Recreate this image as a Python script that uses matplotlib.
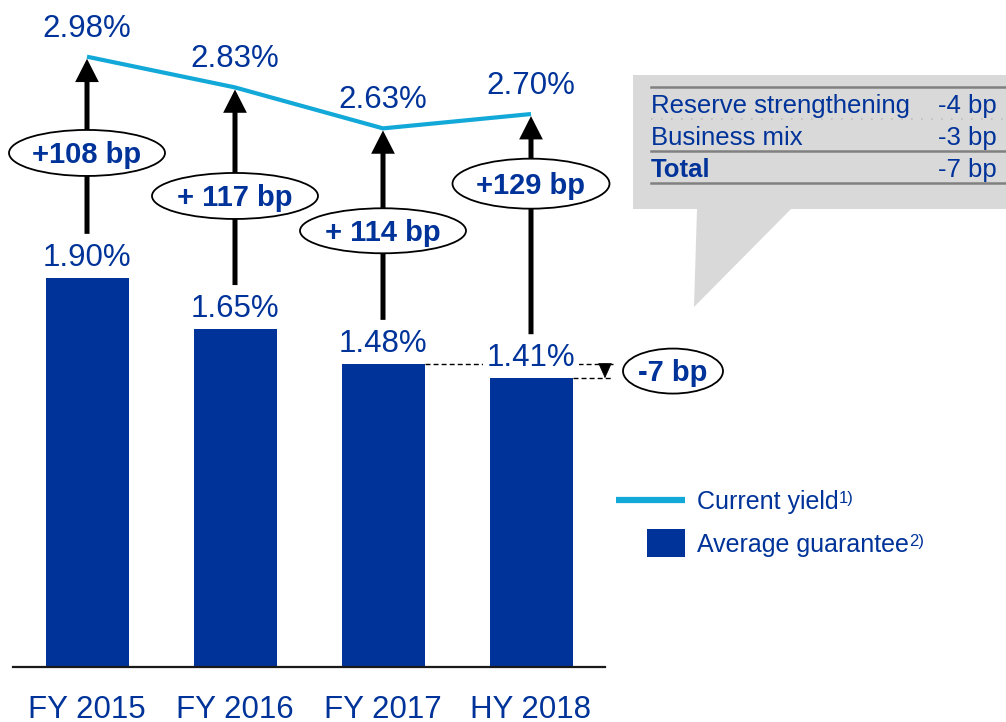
import matplotlib
matplotlib.use("Agg")
import matplotlib.pyplot as plt
from matplotlib.patches import Ellipse, Polygon, Rectangle, FancyArrowPatch
from matplotlib.lines import Line2D

plt.rcParams['font.family'] = ['Liberation Sans', 'DejaVu Sans']

# ---- data -------------------------------------------------------------
periods = ["FY 2015", "FY 2016", "FY 2017", "HY 2018"]
current_yield = [2.98, 2.83, 2.63, 2.70]          # %
average_guarantee = [1.90, 1.65, 1.48, 1.41]      # %
spread_labels = ["+108 bp", "+ 117 bp", "+ 114 bp", "+129 bp"]
change_label = "-7 bp"
bridge_items = ["Reserve strengthening", "Business mix"]
bridge_values = ["-4 bp", "-3 bp"]
bridge_total_label = "Total"
bridge_total_value = "-7 bp"

# ---- layout / style ---------------------------------------------------
BLUE = "#003399"
CYAN = "#12A8D8"
GREY = "#D9D9D9"
RULE = "#808080"

badge_y = [2.51, 2.30, 2.13, 2.36]       # vertical centre of the spread badges
badge_w = [156, 166, 166, 157]          # badge size in pixels
badge_h = [46, 46, 45, 50]

W, H = 1006, 722
fig = plt.figure(figsize=(W / 100, H / 100), dpi=100)


def fx(x):
    return x / W


def fy(y):
    return 1 - y / H


# plot area: category i centred at 87 + 148*i px, 1 pct point = 204.8 px
x0, step = 87, 148
y0, scale = 667, 204.8
ax = fig.add_axes([0, fy(y0), 1, y0 / H])
ax.set_xlim(-x0 / step, (W - x0) / step)
ax.set_ylim(0, y0 / scale)
for s in ax.spines.values():
    s.set_visible(False)
ax.set_yticks([])
ax.set_xticks(range(len(periods)), periods, fontsize=22.5, color=BLUE)
ax.tick_params(axis='x', length=0, pad=20)

xs = list(range(len(periods)))
bar_w = 83 / step

ax.bar(xs, average_guarantee, width=bar_w, color=BLUE, zorder=2)
ax.plot([-0.5, 3.5], [0, 0], color="#1a1a1a", lw=1.6, clip_on=False, zorder=3)
ax.plot(xs, current_yield, color=CYAN, lw=3, solid_capstyle='butt', zorder=4)

for i, v in enumerate(average_guarantee):
    ax.annotate(f"{v:.2f}%", (i, v), xytext=(0, 8.6), textcoords='offset points',
                ha='center', va='baseline', fontsize=22.5, color=BLUE, zorder=5,
                bbox=dict(fc='white', ec='none', pad=3))

for i, v in enumerate(current_yield):
    ax.annotate(f"{v:.2f}%", (i, v), xytext=(0, 14.4), textcoords='offset points',
                ha='center', va='baseline', fontsize=22.5, color=BLUE, zorder=5)

# spread arrows from guarantee label up to the yield line
for i in xs:
    arr = FancyArrowPatch((i, average_guarantee[i]), (i, current_yield[i]),
                          arrowstyle='-|>,head_length=0.55,head_width=0.28',
                          mutation_scale=20, lw=3.6, color='black',
                          joinstyle='miter', capstyle='butt',
                          shrinkA=31.7, shrinkB=1.5, zorder=6)
    ax.add_patch(arr)

for i in xs:
    ax.add_patch(Ellipse((i, badge_y[i]), badge_w[i] / step, badge_h[i] / scale,
                         fc='white', ec='black', lw=1.3, zorder=7))
    ax.annotate(spread_labels[i], (i, badge_y[i]), xytext=(0, -7.5),
                textcoords='offset points', ha='center', va='baseline',
                fontsize=21, fontweight='bold', color=BLUE, zorder=8)

# change in average guarantee over the half-year
dash_end = (613 - x0) / step
for i in (2, 3):
    ax.plot([i + bar_w / 2, dash_end], [average_guarantee[i]] * 2, color='black',
            lw=1, ls=(0, (3.6, 2.2)), zorder=3)
ax.add_patch(FancyArrowPatch((3.5, average_guarantee[2]), (3.5, average_guarantee[3]),
                             arrowstyle='-|>,head_length=1.0,head_width=0.45',
                             mutation_scale=10, lw=0.5, color='black',
                             shrinkA=0, shrinkB=0, zorder=6))
chg_x = (673 - x0) / step
chg_y = (average_guarantee[2] + average_guarantee[3]) / 2
ax.add_patch(Ellipse((chg_x, chg_y), 100 / step, 45 / scale, fc='white', ec='black',
                     lw=1.3, zorder=7, clip_on=False))
ax.annotate(change_label, (chg_x, chg_y), xytext=(0, -7.5), textcoords='offset points',
            ha='center', va='baseline', fontsize=21, fontweight='bold', color=BLUE,
            zorder=8)

# ---- callout with the bridge table ------------------------------------
callout = [(633, 75), (1006, 75), (1006, 209), (791, 209), (694, 307), (697, 209), (633, 209)]
fig.add_artist(Polygon([(fx(a), fy(b)) for a, b in callout], closed=True,
                       transform=fig.transFigure, fc=GREY, ec='none', zorder=1))
for yy in (87, 151, 183):
    fig.add_artist(Line2D([fx(651), fx(1005)], [fy(yy)] * 2, transform=fig.transFigure,
                          color=RULE, lw=1.8, zorder=2))
fig.add_artist(Line2D([fx(651), fx(1005)], [fy(119)] * 2, transform=fig.transFigure,
                      color="#BDBDBD", lw=1.2, ls=(0, (1, 5)), zorder=2))

rows_y = [113, 145]
for name, val, yy in zip(bridge_items, bridge_values, rows_y):
    fig.text(fx(651), fy(yy), name, fontsize=18.5, color=BLUE, va='baseline', ha='left')
    fig.text(fx(997), fy(yy), val, fontsize=18.5, color=BLUE, va='baseline', ha='right')
fig.text(fx(651), fy(177), bridge_total_label, fontsize=18.5, fontweight='bold',
         color=BLUE, va='baseline', ha='left')
fig.text(fx(997), fy(177), bridge_total_value, fontsize=18.5, color=BLUE,
         va='baseline', ha='right')

# ---- legend ------------------------------------------------------------
fig.add_artist(Line2D([fx(616), fx(685)], [fy(500)] * 2, transform=fig.transFigure,
                      color=CYAN, lw=4.5, solid_capstyle='butt'))
fig.add_artist(Rectangle((fx(647), fy(557)), (685 - 647) / W, (557 - 529) / H,
                         transform=fig.transFigure, fc=BLUE, ec='none'))
for label, note, yy in (("Current yield", "1)", 509), ("Average guarantee", "2)", 552)):
    t = fig.text(fx(697), fy(yy), label, fontsize=18, color=BLUE, va='baseline', ha='left')
    ax.annotate(note, xy=(1, 1), xycoords=t, xytext=(0.3, -1), textcoords='offset points',
                ha='left', va='top', fontsize=12, color=BLUE, annotation_clip=False)

fig.savefig("out.png", dpi=100)
